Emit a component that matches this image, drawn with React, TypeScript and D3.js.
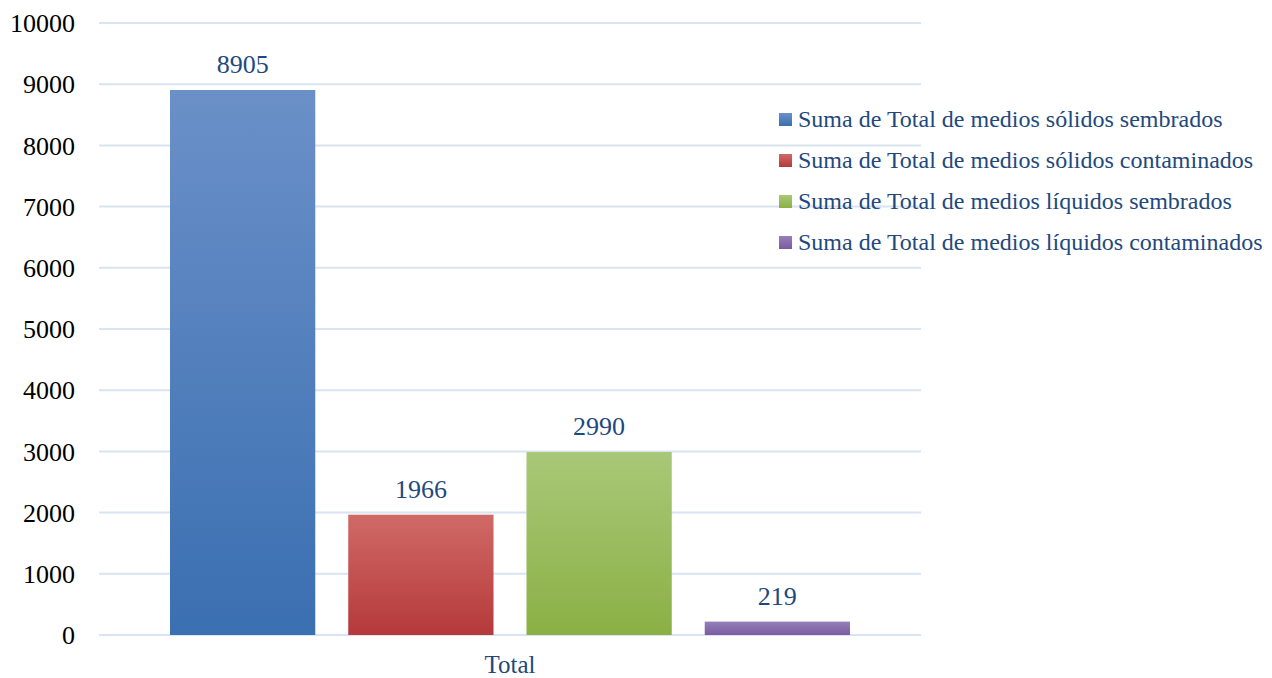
import React from 'react';
import * as d3 from 'd3';

const categories = ['Total'];
const seriesNames = [
  'Suma de Total de medios sólidos sembrados',
  'Suma de Total de medios sólidos contaminados',
  'Suma de Total de medios líquidos sembrados',
  'Suma de Total de medios líquidos contaminados'
];
const seriesValues = [8905, 1966, 2990, 219];
const yTicks = [0, 1000, 2000, 3000, 4000, 5000, 6000, 7000, 8000, 9000, 10000];

// gradient stops, top -> bottom
const colors = [
  ['#6b90c8', '#3a6fb1'],
  ['#d06a67', '#b5393a'],
  ['#a9c878', '#8bb045'],
  ['#9580b8', '#7a5ba0']
];

const W = 1272;
const H = 678;
const margin = { top: 23, right: 351, bottom: 43, left: 99 };
const font = '"Liberation Serif", "Times New Roman", serif';
const textBlue = '#1f497d';

const App = () => {
  const innerW = W - margin.left - margin.right;
  const innerH = H - margin.top - margin.bottom;

  const x0 = d3.scaleBand().domain(categories).range([0, innerW]).padding(0);
  const x1 = d3
    .scaleBand()
    .domain(seriesNames)
    .range([71, x0.bandwidth() - 71])
    .paddingInner(0.185)
    .paddingOuter(0);
  const y = d3.scaleLinear().domain([0, 10000]).range([innerH, 0]);

  return (
    <svg width={W} height={H} style={{ position: 'absolute', left: 0, top: 0 }} fontFamily={font}>
      <defs>
        {colors.map((c, i) => (
          <linearGradient key={i} id={'g' + i} x1="0" y1="0" x2="0" y2="1">
            <stop offset="0%" stopColor={c[0]} />
            <stop offset="100%" stopColor={c[1]} />
          </linearGradient>
        ))}
      </defs>
      <g transform={`translate(${margin.left},${margin.top})`}>
        {yTicks.map((t) => (
          <g key={t}>
            <line x1={0} x2={innerW} y1={y(t)} y2={y(t)} stroke="#d9e4f2" strokeWidth={2} />
            <text x={-24} y={y(t)} dy="0.35em" textAnchor="end" fontSize={26} fill="#000">
              {t}
            </text>
          </g>
        ))}
        {categories.map((cat) => (
          <g key={cat} transform={`translate(${x0(cat)},0)`}>
            {seriesNames.map((s, i) => (
              <g key={s}>
                <rect
                  x={x1(s)}
                  y={y(seriesValues[i])}
                  width={x1.bandwidth()}
                  height={innerH - y(seriesValues[i])}
                  fill={`url(#g${i})`}
                />
                <text
                  x={(x1(s) as number) + x1.bandwidth() / 2}
                  y={y(seriesValues[i]) - 17}
                  textAnchor="middle"
                  fontSize={26}
                  fill={textBlue}
                >
                  {seriesValues[i]}
                </text>
              </g>
            ))}
            <text
              x={x0.bandwidth() / 2}
              y={innerH + 38}
              textAnchor="middle"
              fontSize={25}
              fill={textBlue}
            >
              {cat}
            </text>
          </g>
        ))}
      </g>
      <g transform="translate(779,119)">
        {seriesNames.map((s, i) => (
          <g key={s} transform={`translate(0,${i * 41})`}>
            <rect x={0} y={-6} width={13} height={13} fill={`url(#g${i})`} />
            <text x={19} y={0} dy="0.35em" fontSize={24} fill={textBlue}>
              {s}
            </text>
          </g>
        ))}
      </g>
    </svg>
  );
};

export default App;
